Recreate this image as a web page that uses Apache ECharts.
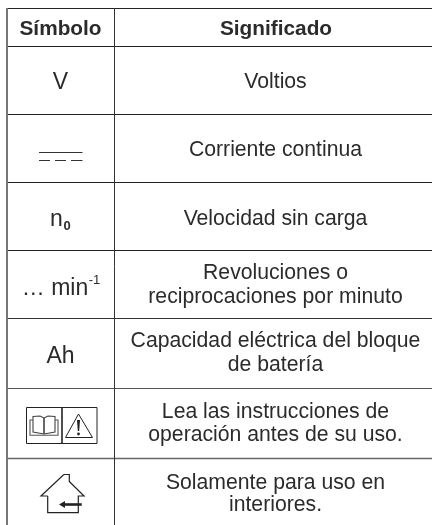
<!DOCTYPE html>
<html><head><meta charset="utf-8">
<style>html,body{margin:0;padding:0;background:#fff}#c{width:432px;height:525px}</style>
<script src="https://cdn.jsdelivr.net/npm/echarts@6/dist/echarts.min.js"></script>
</head><body><div id="c"></div>
<script>
const headers = ["Símbolo", "Significado"];
const symbols = ["V", "", "n0", "min-1", "Ah", "", ""];
const meanings = [
  ["Voltios"],
  ["Corriente continua"],
  ["Velocidad sin carga"],
  ["Revoluciones o", "reciprocaciones por minuto"],
  ["Capacidad eléctrica del bloque", "de batería"],
  ["Lea las instrucciones de", "operación antes de su uso."],
  ["Solamente para uso en", "interiores."]
];
const rowLines = [8.5, 46.5, 114.5, 182.5, 250.5, 318.5, 388.5, 458.5];
const lineColors = ["#222","#222","#222","#222","#222","#333","#555","#666"];
const lineWidths = [1,1,1,1,1,1,1.2,1.6];
const meaningBaselines = [[90],[158],[227],[281,305],[349,373],[419.5,443],[491,513]];
const symbolBaselines = [91,0,228,297,365,0,0];
const F = '"Liberation Sans", Arial, sans-serif';
const INK = "#2b2b2b";
const FS = 21.2;
const gfx = [];
function line(x1,y1,x2,y2,stroke,w){gfx.push({type:'line',shape:{x1,y1,x2,y2},style:{stroke,lineWidth:w}});}
function poly(points,stroke,w,fill,closed){gfx.push({type:closed?'polygon':'polyline',shape:{points},style:{stroke,lineWidth:w,fill:fill||'none'}});}
function text(t,x,base,opts){opts=opts||{};const size=opts.size||FS;
  gfx.push({type:'text',x,y:base-size*0.36,style:{text:t,fill:INK,font:(opts.bold?'bold ':'')+size+'px '+F,textAlign:'center',textVerticalAlign:'middle'}});}
rowLines.forEach((y,i)=>line(7,y,432,y,lineColors[i],lineWidths[i]));
line(7,8,7,525,'#777',2);
line(114.5,8,114.5,525,'#333',1);
text(headers[0],60.5,37,{bold:true,size:20.8});
text(headers[1],276,37,{bold:true,size:20.8});
meanings.forEach((m,i)=>m.forEach((t,j)=>text(t,275.5,meaningBaselines[i][j])));
text(symbols[0],60.5,symbolBaselines[0],{size:23});
text(symbols[4],60.5,symbolBaselines[4],{size:23});
// n0
text('n',56.5,symbolBaselines[2],{size:23});
text('0',67,231.5,{size:13,bold:true});
// … min-1
text('… min',55,297,{size:23});
text('-1',94.5,285,{size:13});
// DC
line(39,152.5,82.5,152.5,'#333',1);
[[39,50],[55,66],[71,82.5]].forEach(d=>line(d[0],160.5,d[1],160.5,'#333',1));
// Book + warning
gfx.push({type:'rect',shape:{x:26.5,y:407.5,width:70.5,height:36},style:{stroke:'#222',lineWidth:1,fill:'none'}});
line(62,407.5,62,443.5,'#222',1.6);
poly([[78.5,414],[92.5,437.5],[65.5,437.5]],'#222',1,null,true);
gfx.push({type:'polygon',shape:{points:[[77,420],[80,420],[79.2,431],[77.8,431]]},style:{fill:'#222'}});
gfx.push({type:'circle',shape:{cx:78.5,cy:434,r:1.4},style:{fill:'#222'}});
poly([[44,434],[44,418],[40,416],[33,416.5],[33,432],[44,434]],'#444',1.1);
poly([[44,434],[44,418],[48,416],[55,416.5],[55,432],[44,434]],'#444',1.1);
poly([[33,420],[30,420],[30,435.2],[58,435.2],[58,420],[55,420]],'#555',1.1);
// House
poly([[47.7,496],[41,496],[63.3,475],[64.5,474.5],[69.3,474.5],[69.3,481.5],[84,496],[78.3,496],[78.3,512.7],[47.7,512.7],[47.7,496]],'#222',1.2);
gfx.push({type:'rect',shape:{x:62,y:503.2,width:19.7,height:2.6},style:{fill:'#222'}});
gfx.push({type:'polygon',shape:{points:[[59,504.5],[65,501],[65,508]]},style:{fill:'#222'}});
const chart = echarts.init(document.getElementById('c'),null,{renderer:'canvas'});
chart.setOption({animation:false,backgroundColor:'#fff',graphic:{elements:gfx}});
</script></body></html>
